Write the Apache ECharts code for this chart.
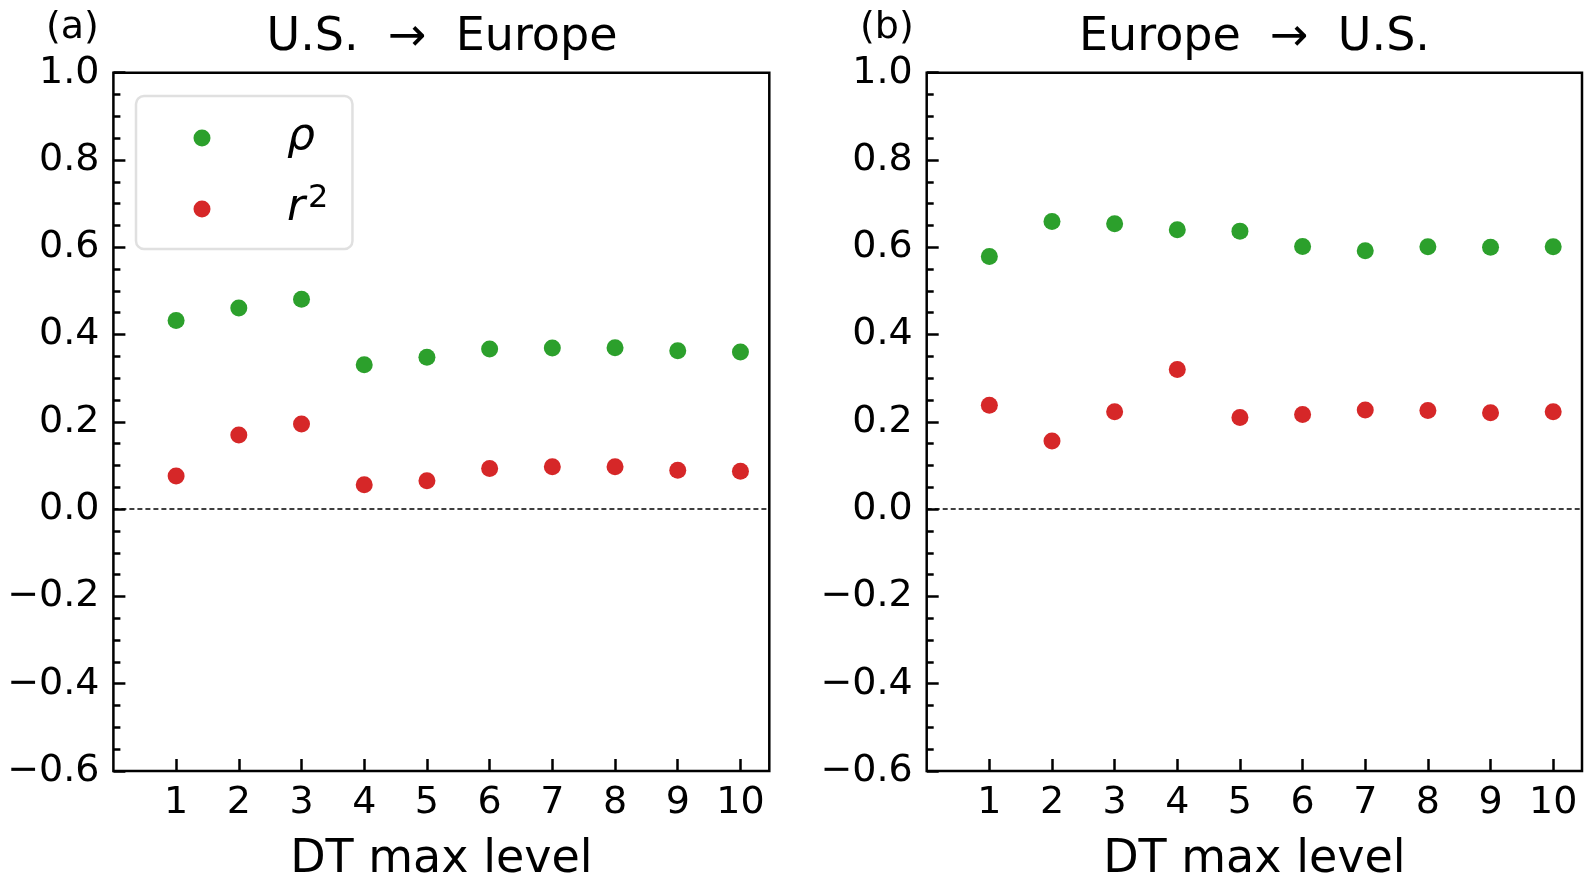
<!DOCTYPE html>
<html>
<head>
<meta charset="utf-8">
<script src="https://cdn.jsdelivr.net/npm/echarts@6/dist/echarts.min.js"></script>
<style>
html,body{margin:0;padding:0;background:#fff;}
#chart{width:1588px;height:882px;}
</style>
</head>
<body>
<div id="chart"></div>
<script>
// ---- data ----
const categories = [1, 2, 3, 4, 5, 6, 7, 8, 9, 10];
const rhoUS2EU = [0.432, 0.461, 0.481, 0.331, 0.348, 0.367, 0.369, 0.370, 0.363, 0.360];
const r2US2EU  = [0.076, 0.170, 0.195, 0.056, 0.065, 0.093, 0.097, 0.097, 0.089, 0.087];
const rhoEU2US = [0.579, 0.659, 0.654, 0.640, 0.637, 0.602, 0.592, 0.601, 0.600, 0.601];
const r2EU2US  = [0.238, 0.156, 0.223, 0.320, 0.210, 0.217, 0.227, 0.226, 0.221, 0.223];
const xTicks = [1, 2, 3, 4, 5, 6, 7, 8, 9, 10];
const panelTitles = ['U.S.  \u2192  Europe', 'Europe  \u2192  U.S.'];
const panelLabels = ['(a)', '(b)'];
const xAxisName = 'DT max level';

const FONT = 'DejaVu Sans';
const GREEN = '#2ca02c';
const RED = '#d62728';

function pairs(xs, ys) { return xs.map((x, i) => [x, ys[i]]); }

const grids = [
  {left: 113.4, top: 72.7, width: 655.9, height: 698.3},
  {left: 926.7, top: 72.7, width: 655.3, height: 698.3}
];

function xAxisFor(idx) {
  return {
    type: 'value', gridIndex: idx, min: 0, max: 10.46,
    name: xAxisName, nameLocation: 'middle', nameGap: 66,
    nameTextStyle: {fontFamily: FONT, fontSize: 46, color: '#000'},
    axisLine: {show: false, onZero: false},
    splitLine: {show: false},
    axisTick: {show: true, inside: true, length: 12, customValues: xTicks,
               lineStyle: {color: '#000', width: 2.5}},
    axisLabel: {show: true, customValues: xTicks, margin: 13,
                fontFamily: FONT, fontSize: 38, color: '#000'}
  };
}
function yAxisFor(idx) {
  return {
    type: 'value', gridIndex: idx, min: -0.6, max: 1.0, interval: 0.2,
    axisLine: {show: false, onZero: false},
    splitLine: {show: false},
    axisTick: {show: true, inside: true, length: 12, lineStyle: {color: '#000', width: 2.5}},
    minorTick: {show: true, splitNumber: 4, length: 7, lineStyle: {color: '#000', width: 2.5}},
    axisLabel: {show: true, margin: 14, fontFamily: FONT, fontSize: 38, color: '#000',
      formatter: v => Math.abs(v) < 1e-9 ? '0.0' : v.toFixed(1).replace('-', '\u2212')}
  };
}

function scatter(name, idx, ys, color, withZero) {
  const s = {
    name: name, type: 'scatter', xAxisIndex: idx, yAxisIndex: idx,
    data: pairs(categories, ys), symbol: 'circle', symbolSize: 17,
    itemStyle: {color: color, opacity: 1}, z: 3
  };
  if (withZero) {
    s.markLine = {
      silent: true, symbol: 'none', animation: false,
      label: {show: false},
      lineStyle: {color: '#000', width: 1.5, type: [5, 3]},
      data: [{yAxis: 0}]
    };
  }
  return s;
}

const option = {
  animation: false,
  backgroundColor: '#fff',
  textStyle: {fontFamily: FONT},
  title: [
    {text: panelLabels[0], left: 46, top: 9, padding: 0,
     textStyle: {fontFamily: FONT, fontSize: 38, fontWeight: 'normal', color: '#000'}},
    {text: panelLabels[1], left: 860, top: 9, padding: 0,
     textStyle: {fontFamily: FONT, fontSize: 38, fontWeight: 'normal', color: '#000'}},
    {text: panelTitles[0], left: 442, top: 15, padding: 0, textAlign: 'center',
     textStyle: {fontFamily: FONT, fontSize: 46, fontWeight: 'normal', color: '#000'}},
    {text: panelTitles[1], left: 1254.5, top: 15, padding: 0, textAlign: 'center',
     textStyle: {fontFamily: FONT, fontSize: 46, fontWeight: 'normal', color: '#000'}}
  ],
  legend: {
    show: true, orient: 'vertical', left: 136, top: 96,
    padding: [20, 24, 18, 57.5], itemGap: 23,
    itemWidth: 17, itemHeight: 17, icon: 'circle',
    backgroundColor: 'rgba(255,255,255,0.8)',
    borderColor: '#e0e0e0', borderWidth: 2.5, borderRadius: 8,
    data: ['rho', 'r2'],
    formatter: n => n === 'rho' ? '{i|\u03c1}' : '{i|r}{s|2}',
    textStyle: {
      padding: [0, 0, 0, 71.5], lineHeight: 40, color: '#000',
      rich: {
        i: {fontFamily: FONT, fontSize: 44, fontStyle: 'italic', lineHeight: 40, color: '#000'},
        s: {fontFamily: FONT, fontSize: 32, height: 20, lineHeight: 20, color: '#000',
            verticalAlign: 'top', padding: [0, 0, 0, 3]}
      }
    }
  },
  grid: grids.map(g => Object.assign({show: true, borderColor: '#000', borderWidth: 2.5,
                                       outerBoundsMode: 'none',
                                       backgroundColor: 'transparent', containLabel: false}, g)),
  xAxis: [xAxisFor(0), xAxisFor(1)],
  yAxis: [yAxisFor(0), yAxisFor(1)],
  series: [
    scatter('rho', 0, rhoUS2EU, GREEN, true),
    scatter('r2', 0, r2US2EU, RED, false),
    scatter('rho', 1, rhoEU2US, GREEN, true),
    scatter('r2', 1, r2EU2US, RED, false)
  ]
};

const chart = echarts.init(document.getElementById('chart'), null, {renderer: 'canvas'});
chart.setOption(option);
</script>
</body>
</html>
